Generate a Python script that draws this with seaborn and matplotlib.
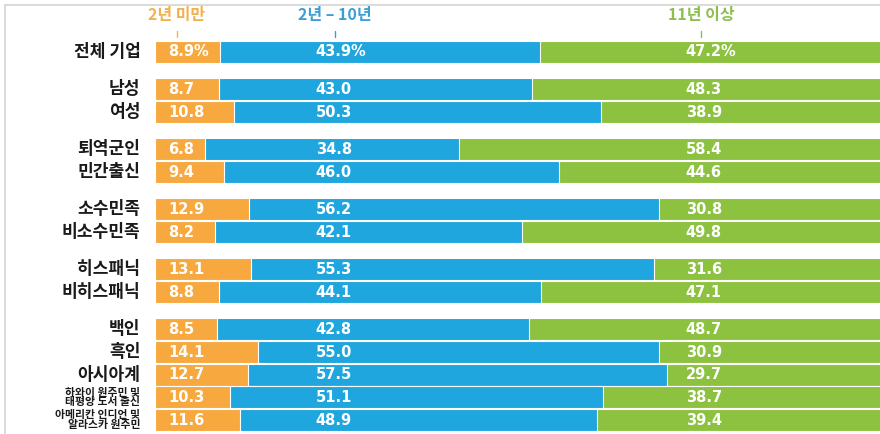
import matplotlib
matplotlib.use("Agg")
import matplotlib.pyplot as plt
import seaborn as sns
import pandas as pd
from matplotlib.lines import Line2D

sns.set_theme(style="white")
plt.rcParams["font.family"] = ["Noto Sans CJK KR", "DejaVu Sans"]

# Tenure of business owners, by group (% of firms)
groups = ["전체 기업", "남성", "여성", "퇴역군인", "민간출신", "소수민족", "비소수민족",
          "히스패닉", "비히스패닉", "백인", "흑인", "아시아계",
          "하와이 원주민 및\n태평양 도서 출신", "아메리칸 인디언 및\n알라스카 원주민"]
under_2 = [8.9, 8.7, 10.8, 6.8, 9.4, 12.9, 8.2, 13.1, 8.8, 8.5, 14.1, 12.7, 10.3, 11.6]
yrs_2_10 = [43.9, 43.0, 50.3, 34.8, 46.0, 56.2, 42.1, 55.3, 44.1, 42.8, 55.0, 57.5, 51.1, 48.9]
yrs_11_plus = [47.2, 48.3, 38.9, 58.4, 44.6, 30.8, 49.8, 31.6, 47.1, 48.7, 30.9, 29.7, 38.7, 39.4]
header_labels = ["2년 미만", "2년 – 10년", "11년 이상"]

# row positions: blocks of related groups separated by a small gap
gap = 0.65
block_sizes = [1, 2, 2, 2, 2, 5]
positions = []
y = 0.0
for bi, n in enumerate(block_sizes):
    if bi > 0:
        y += gap
    for _ in range(n):
        positions.append(y)
        y += 1.0

ORANGE = "#F7A940"
BLUE = "#1FA6DE"
GREEN = "#8CC240"

df = pd.DataFrame({
    "group": groups,
    "pos": positions,
    "under_2": under_2,
    "yrs_2_10": yrs_2_10,
    "yrs_11_plus": yrs_11_plus,
})
df["end_blue"] = df["under_2"] + df["yrs_2_10"]
df["end_green"] = df["end_blue"] + df["yrs_11_plus"]

fig = plt.figure(figsize=(8.8, 4.34), dpi=100)
ax = fig.add_axes([155 / 880, 0, 725 / 880, 1])

# stacked bars drawn back to front from cumulative ends
for col, color in [("end_green", GREEN), ("end_blue", BLUE), ("under_2", ORANGE)]:
    sns.barplot(data=df, x=col, y="pos", orient="y", native_scale=True,
                color=color, saturation=1, width=0.97, errorbar=None,
                edgecolor="white", linewidth=0.8, ax=ax)

px_per_unit = 22.65
top = -52 / px_per_unit
bottom = positions[-1] + (434 - 420) / px_per_unit
ax.set_ylim(bottom, top)
ax.set_xlim(0, 725 / 7.3)
ax.set_axis_off()

val_font = dict(color="white", fontsize=10.5, fontweight="bold",
                family="DejaVu Sans", va="center", ha="left")
for i, row in df.iterrows():
    suffix = "%" if i == 0 else ""
    ax.text(1.8, row["pos"], f"{row['under_2']:.1f}{suffix}", **val_font)
    ax.text(22.0, row["pos"], f"{row['yrs_2_10']:.1f}{suffix}", **val_font)
    ax.text(72.7, row["pos"], f"{row['yrs_11_plus']:.1f}{suffix}", **val_font)
    two_line = "\n" in row["group"]
    ax.text(-2.0, row["pos"], row["group"],
            ha="right", va="center", fontsize=7.8 if two_line else 12.3,
            fontweight="bold", color="#1a1a1a", linespacing=0.88,
            multialignment="right", clip_on=False)

# column headers with small tick marks
header_x = [3.0, 24.7, 74.8]
header_colors = ["#F2B04E", "#3A9FD4", "#8DBE4E"]
for hx, lab, c in zip(header_x, header_labels, header_colors):
    ax.text(hx, top + 15 / px_per_unit, lab, ha="center", va="center",
            fontsize=11.5, fontweight="bold", color=c, clip_on=False)
    ax.plot([hx, hx], [top + 31 / px_per_unit, top + 37 / px_per_unit],
            color=c, lw=1.0, clip_on=False)

# light frame on the top and left edges
fig.add_artist(Line2D([5 / 880, 1], [1 - 5 / 434, 1 - 5 / 434],
                      color="#D4D4D4", lw=1.2, transform=fig.transFigure))
fig.add_artist(Line2D([5 / 880, 5 / 880], [0, 1 - 5 / 434],
                      color="#D4D4D4", lw=1.2, transform=fig.transFigure))

fig.savefig("out.png", dpi=100, facecolor="white")
